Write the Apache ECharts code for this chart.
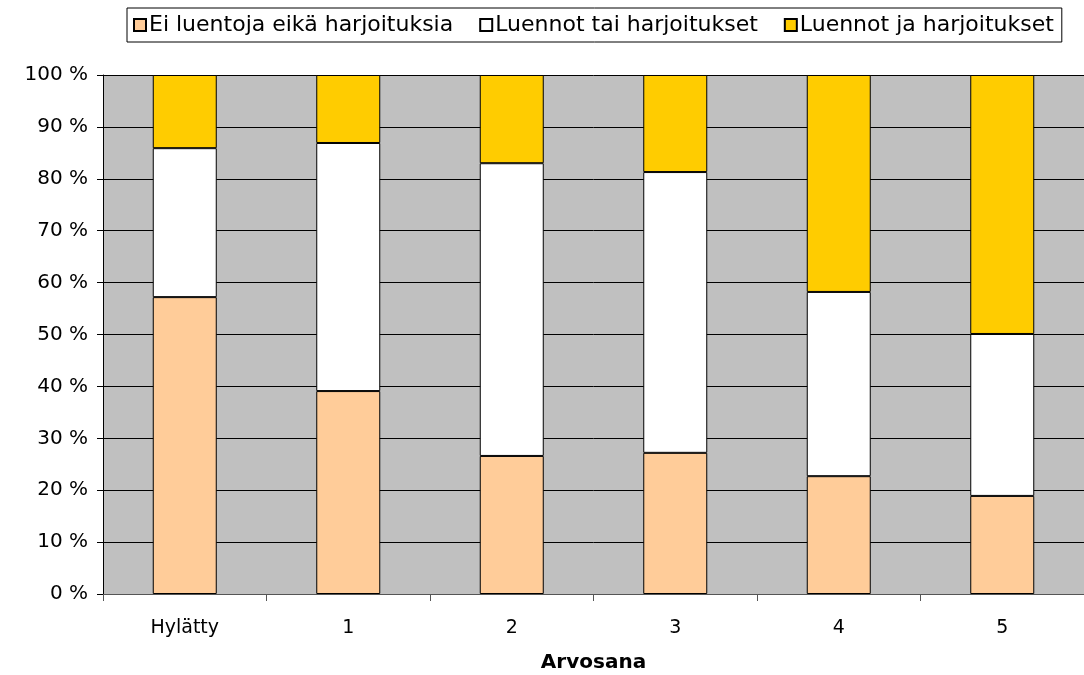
<!DOCTYPE html>
<html>
<head>
<meta charset="utf-8">
<script src="https://cdn.jsdelivr.net/npm/echarts@6/dist/echarts.min.js"></script>
<style>
  html, body { margin: 0; padding: 0; background: #fff; }
  #chart { width: 1084px; height: 675px; }
</style>
</head>
<body>
<div id="chart"></div>
<script>
// luokat ja osuudet (%)
const categories = ['Hylätty', '1', '2', '3', '4', '5'];
const seriesNames = ['Ei luentoja eikä harjoituksia', 'Luennot tai harjoitukset', 'Luennot ja harjoitukset'];
const eiMitaan = [57.2, 39.1, 26.6, 27.2, 22.7, 18.9];
const joko = [28.7, 47.8, 56.4, 54.1, 35.5, 31.2];
const molemmat = [14.1, 13.1, 17.0, 18.7, 41.8, 49.9];
const colors = ['#FFCC99', '#FFFFFF', '#FFCC00'];

const chart = echarts.init(document.getElementById('chart'));
const font = 'DejaVu Sans, Verdana, sans-serif';

const mkSeries = (name, data, color) => ({
  name: name,
  type: 'bar',
  stack: 'all',
  data: data,
  barWidth: 64,
  itemStyle: { color: color, borderColor: '#000', borderWidth: 1 },
  emphasis: { disabled: true }
});

const option = {
  animation: false,
  textStyle: { fontFamily: font },
  legend: {
    top: 8,
    left: 127,
    itemWidth: 12,
    itemHeight: 12,
    itemGap: 26,
    padding: [6, 8, 6, 6],
    borderColor: '#000',
    borderWidth: 1,
    icon: 'rect',
    textStyle: { fontSize: 22, color: '#000', fontFamily: font, padding: [0, 0, 0, -2] },
    data: seriesNames
  },
  grid: {
    left: 103, right: 0, top: 75, bottom: 81,
    outerBoundsMode: 'none',
    containLabel: false,
    show: true, backgroundColor: '#C0C0C0', borderWidth: 0
  },
  xAxis: {
    type: 'category',
    data: categories,
    name: 'Arvosana',
    nameLocation: 'middle',
    nameGap: 59,
    nameTextStyle: { fontSize: 20, fontWeight: 'bold', color: '#000', fontFamily: font },
    axisLine: { lineStyle: { color: '#555', width: 1 } },
    axisTick: { show: true, alignWithLabel: false, length: 7, lineStyle: { color: '#555' } },
    axisLabel: { fontSize: 19, color: '#000', margin: 25 }
  },
  yAxis: {
    type: 'value',
    min: 0,
    max: 100,
    interval: 10,
    axisLine: { show: true, lineStyle: { color: '#000' } },
    axisTick: { show: true, length: 6, lineStyle: { color: '#000' } },
    axisLabel: { formatter: '{value} %', fontSize: 20, color: '#000', margin: 15 },
    splitLine: { lineStyle: { color: '#000', width: 1 } }
  },
  series: [
    mkSeries(seriesNames[0], eiMitaan, colors[0]),
    mkSeries(seriesNames[1], joko, colors[1]),
    mkSeries(seriesNames[2], molemmat, colors[2])
  ]
};

chart.setOption(option);
</script>
</body>
</html>
